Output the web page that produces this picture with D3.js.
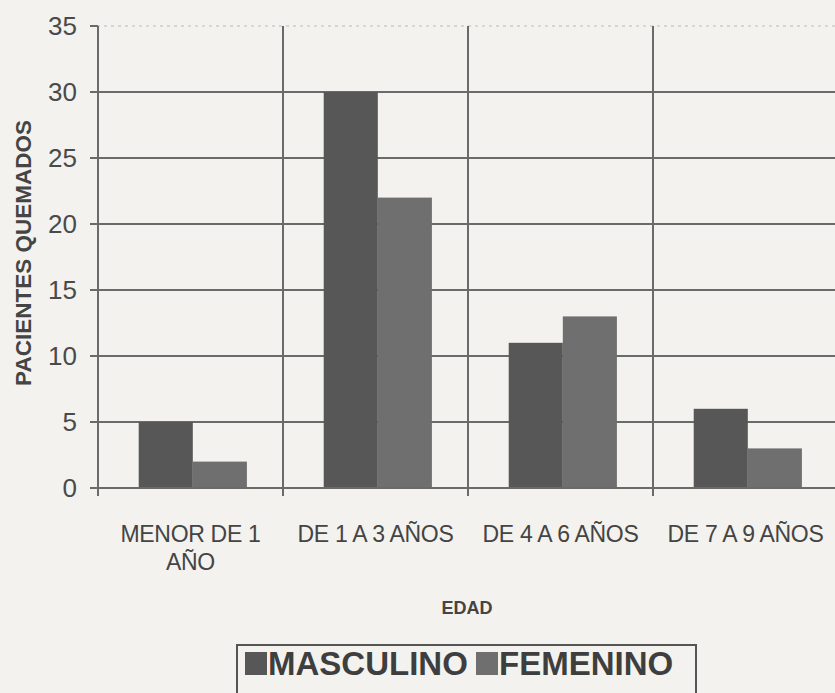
<!DOCTYPE html>
<html>
<head>
<meta charset="utf-8">
<script src="https://cdn.jsdelivr.net/npm/d3@7"></script>
<style>
	body { margin: 0; background: #f3f2ee; }
	svg { display: block; font-family: "Liberation Sans", Arial, sans-serif; }
</style>
</head>
<body>
<div id="chart"></div>
<script>

const categories = [ ["MENOR DE 1", "AÑO"], ["DE 1 A 3 AÑOS"], ["DE 4 A 6 AÑOS"], ["DE 7 A 9 AÑOS"] ];
const series = [ "MASCULINO", "FEMENINO" ];
const masculino = [ 5, 30, 11, 6 ];
const femenino = [ 2, 22, 13, 3 ];
const yTicks = [ 0, 5, 10, 15, 20, 25, 30, 35 ];

const width = 835, height = 693;
const m_left = 98, m_right = 838, m_top = 26, m_bottom = 488;

const colors = [ "#575757", "#6f6f6f" ];
const grid = "#6a6a6a";

let svg = d3.select( "#chart" )
	.append( "svg" )
	.attr( "width", width )
	.attr( "height", height );

let X = d3.scaleBand()
	.domain( d3.range( categories.length ) )
	.range( [ m_left, m_right ] )
	.paddingInner( 0 )
	.paddingOuter( 0 );

let Xs = d3.scaleBand()
	.domain( series )
	.range( [ 0, X.bandwidth() ] )
	.paddingOuter( 0.71 )
	.paddingInner( 0 )
	.align( 0.53 );

let Y = d3.scaleLinear()
	.domain( [ 0, 35 ] )
	.range( [ m_bottom, m_top ] );

// horizontal gridlines
svg.append( "g" )
	.selectAll( "line" )
	.data( yTicks )
	.join( "line" )
		.attr( "x1", m_left - 8 )
		.attr( "x2", width )
		.attr( "y1", d => Y( d ) )
		.attr( "y2", d => Y( d ) )
		.attr( "stroke", d => d === 35 ? "#bbb" : grid )
		.attr( "stroke-width", d => d === 35 ? 1 : 2 )
		.attr( "stroke-dasharray", d => d === 35 ? "3,4" : null );

// short tick at top
svg.append( "line" )
	.attr( "x1", m_left - 8 ).attr( "x2", m_left )
	.attr( "y1", Y( 35 ) ).attr( "y2", Y( 35 ) )
	.attr( "stroke", grid ).attr( "stroke-width", 2 );

// vertical separators
let seps = d3.range( categories.length + 1 ).map( i => i < categories.length ? X( i ) : m_right );
svg.append( "g" )
	.selectAll( "line" )
	.data( seps )
	.join( "line" )
		.attr( "x1", d => d )
		.attr( "x2", d => d )
		.attr( "y1", Y( 35 ) )
		.attr( "y2", m_bottom + 8 )
		.attr( "stroke", grid )
		.attr( "stroke-width", 2 );

// bars
let rows = categories.map( ( c, i ) => [ masculino[ i ], femenino[ i ] ] );
svg.append( "g" )
	.selectAll( "g" )
	.data( rows )
	.join( "g" )
		.attr( "transform", ( d, i ) => "translate(" + X( i ) + ",0)" )
	.selectAll( "rect" )
	.data( d => d.map( ( v, j ) => ( { key: series[ j ], v, j } ) ) )
	.join( "rect" )
		.attr( "x", d => Xs( d.key ) )
		.attr( "y", d => Y( d.v ) )
		.attr( "width", Xs.bandwidth() )
		.attr( "height", d => m_bottom - Y( d.v ) )
		.attr( "fill", d => colors[ d.j ] );

// redraw baseline on top
svg.append( "line" )
	.attr( "x1", m_left - 8 ).attr( "x2", width )
	.attr( "y1", m_bottom ).attr( "y2", m_bottom )
	.attr( "stroke", grid ).attr( "stroke-width", 2 );

// y tick labels
svg.append( "g" )
	.selectAll( "text" )
	.data( yTicks )
	.join( "text" )
		.attr( "x", 77 )
		.attr( "y", d => Y( d ) + 9 )
		.attr( "text-anchor", "end" )
		.attr( "font-size", 26 )
		.attr( "fill", "#4a4a4a" )
		.text( d => d );

// x labels
let xl = svg.append( "g" )
	.selectAll( "text" )
	.data( categories )
	.join( "text" )
		.attr( "x", ( d, i ) => X( i ) + X.bandwidth() / 2 )
		.attr( "y", 542 )
		.attr( "text-anchor", "middle" )
		.attr( "font-size", 23 )
		.attr( "letter-spacing", -0.3 )
		.attr( "fill", "#444" );
xl.selectAll( "tspan" )
	.data( d => d )
	.join( "tspan" )
		.attr( "x", function() { return d3.select( this.parentNode ).attr( "x" ); } )
		.attr( "dy", ( d, k ) => k === 0 ? 0 : 28 )
		.text( d => d );

// axis titles
svg.append( "text" )
	.attr( "x", 467 )
	.attr( "y", 614 )
	.attr( "text-anchor", "middle" )
	.attr( "font-size", 18 )
	.attr( "font-weight", "bold" )
	.attr( "fill", "#444" )
	.text( "EDAD" );

svg.append( "text" )
	.attr( "transform", "translate(31,253) rotate(-90)" )
	.attr( "text-anchor", "middle" )
	.attr( "font-size", 22.5 )
	.attr( "font-weight", "bold" )
	.attr( "fill", "#444" )
	.text( "PACIENTES QUEMADOS" );

// legend
let lg = svg.append( "g" );
lg.append( "rect" )
	.attr( "x", 237 ).attr( "y", 645 )
	.attr( "width", 459 ).attr( "height", 60 )
	.attr( "fill", "none" )
	.attr( "stroke", "#555" )
	.attr( "stroke-width", 2 );

let legendX = [ 245, 476 ];
let li = lg.selectAll( "g" )
	.data( series )
	.join( "g" )
		.attr( "transform", ( d, i ) => "translate(" + legendX[ i ] + ",652)" );
li.append( "rect" )
	.attr( "width", 22 ).attr( "height", 23 )
	.attr( "fill", ( d, i ) => colors[ i ] );
li.append( "text" )
	.attr( "x", 23 )
	.attr( "y", 23 )
	.attr( "font-size", 33 )
	.attr( "font-weight", "bold" )
	.attr( "fill", "#3e3e3e" )
	.text( d => d );

</script>
</body>
</html>
